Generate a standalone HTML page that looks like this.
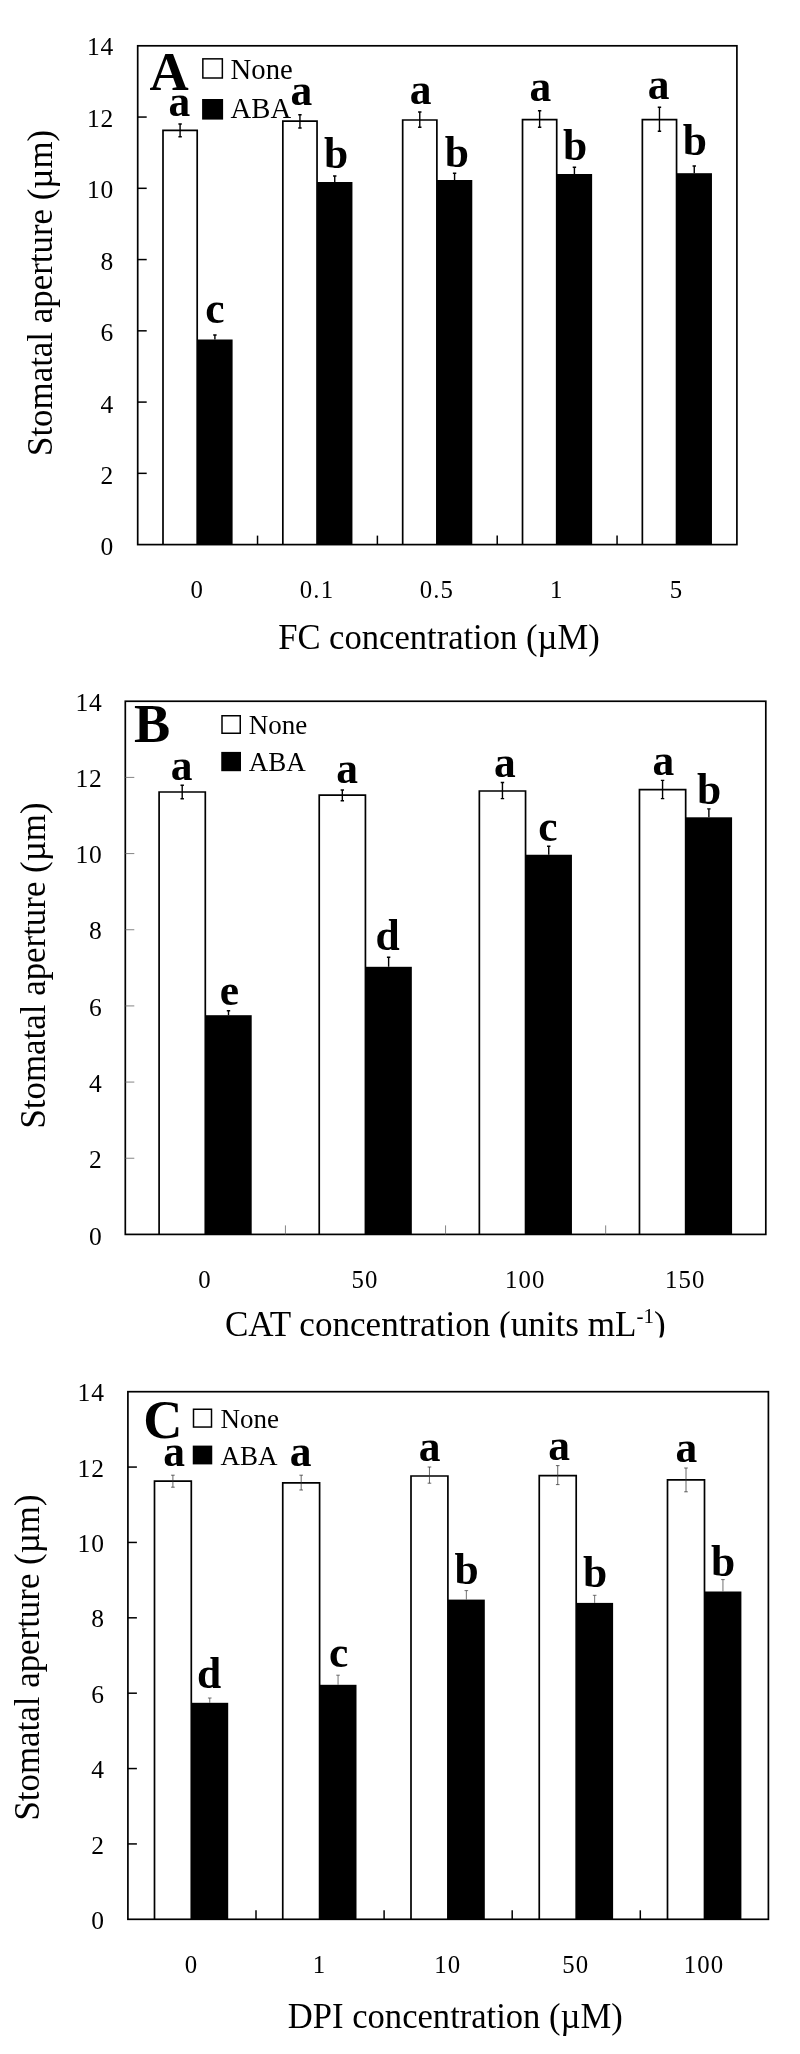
<!DOCTYPE html>
<html><head><meta charset="utf-8"><title>Stomatal aperture</title>
<style>html,body{margin:0;padding:0;background:#fff}svg{display:block;will-change:transform;filter:grayscale(1)}text{fill:#000}</style>
</head><body>
<svg width="800" height="2054" viewBox="0 0 800 2054">
<rect width="800" height="2054" fill="#fff"/>
<rect x="197.20" y="339.50" width="35.40" height="205.10" fill="#000"/>
<path d="M163.00 544.60V130.40H197.20V544.60" fill="#fff" stroke="#000" stroke-width="1.7" stroke-linejoin="miter"/>
<path d="M180.10 124.00V136.80M178.40 124.00H181.80M178.40 136.80H181.80" stroke="#000" stroke-width="1.4" fill="none"/>
<path d="M214.90 335.00V339.50M213.20 335.00H216.60" stroke="#000" stroke-width="1.4" fill="none"/>
<rect x="317.04" y="182.00" width="35.40" height="362.60" fill="#000"/>
<path d="M282.84 544.60V121.20H317.04V544.60" fill="#fff" stroke="#000" stroke-width="1.7" stroke-linejoin="miter"/>
<path d="M299.94 114.80V128.00M298.24 114.80H301.64M298.24 128.00H301.64" stroke="#000" stroke-width="1.4" fill="none"/>
<path d="M334.74 176.00V182.00M333.04 176.00H336.44" stroke="#000" stroke-width="1.4" fill="none"/>
<rect x="436.88" y="180.00" width="35.40" height="364.60" fill="#000"/>
<path d="M402.68 544.60V120.00H436.88V544.60" fill="#fff" stroke="#000" stroke-width="1.7" stroke-linejoin="miter"/>
<path d="M419.78 112.00V127.20M418.08 112.00H421.48M418.08 127.20H421.48" stroke="#000" stroke-width="1.4" fill="none"/>
<path d="M454.58 173.20V180.00M452.88 173.20H456.28" stroke="#000" stroke-width="1.4" fill="none"/>
<rect x="556.72" y="174.00" width="35.40" height="370.60" fill="#000"/>
<path d="M522.52 544.60V119.60H556.72V544.60" fill="#fff" stroke="#000" stroke-width="1.7" stroke-linejoin="miter"/>
<path d="M539.62 110.80V127.20M537.92 110.80H541.32M537.92 127.20H541.32" stroke="#000" stroke-width="1.4" fill="none"/>
<path d="M574.42 167.20V174.00M572.72 167.20H576.12" stroke="#000" stroke-width="1.4" fill="none"/>
<rect x="676.56" y="173.20" width="35.40" height="371.40" fill="#000"/>
<path d="M642.36 544.60V119.60H676.56V544.60" fill="#fff" stroke="#000" stroke-width="1.7" stroke-linejoin="miter"/>
<path d="M659.46 107.20V131.20M657.76 107.20H661.16M657.76 131.20H661.16" stroke="#000" stroke-width="1.4" fill="none"/>
<path d="M694.26 166.00V173.20M692.56 166.00H695.96" stroke="#000" stroke-width="1.4" fill="none"/>
<rect x="137.70" y="45.80" width="599.20" height="498.80" fill="none" stroke="#000" stroke-width="1.7"/>
<text x="113.30" y="555.44" font-size="25.5" text-anchor="end" letter-spacing="0" font-family="Liberation Serif, serif">0</text>
<line x1="137.70" y1="473.34" x2="146.70" y2="473.34" stroke="#000" stroke-width="1.5"/>
<text x="113.30" y="483.98" font-size="25.5" text-anchor="end" letter-spacing="0" font-family="Liberation Serif, serif">2</text>
<line x1="137.70" y1="402.09" x2="146.70" y2="402.09" stroke="#000" stroke-width="1.5"/>
<text x="113.30" y="412.52" font-size="25.5" text-anchor="end" letter-spacing="0" font-family="Liberation Serif, serif">4</text>
<line x1="137.70" y1="330.83" x2="146.70" y2="330.83" stroke="#000" stroke-width="1.5"/>
<text x="113.30" y="341.06" font-size="25.5" text-anchor="end" letter-spacing="0" font-family="Liberation Serif, serif">6</text>
<line x1="137.70" y1="259.57" x2="146.70" y2="259.57" stroke="#000" stroke-width="1.5"/>
<text x="113.30" y="269.60" font-size="25.5" text-anchor="end" letter-spacing="0" font-family="Liberation Serif, serif">8</text>
<line x1="137.70" y1="188.31" x2="146.70" y2="188.31" stroke="#000" stroke-width="1.5"/>
<text x="114.20" y="198.14" font-size="25.5" text-anchor="end" letter-spacing="0.9" font-family="Liberation Serif, serif">10</text>
<line x1="137.70" y1="117.06" x2="146.70" y2="117.06" stroke="#000" stroke-width="1.5"/>
<text x="114.20" y="126.68" font-size="25.5" text-anchor="end" letter-spacing="0.9" font-family="Liberation Serif, serif">12</text>
<text x="114.20" y="55.22" font-size="25.5" text-anchor="end" letter-spacing="0.9" font-family="Liberation Serif, serif">14</text>
<line x1="257.54" y1="544.60" x2="257.54" y2="535.60" stroke="#000" stroke-width="1.5"/>
<line x1="377.38" y1="544.60" x2="377.38" y2="535.60" stroke="#000" stroke-width="1.5"/>
<line x1="497.22" y1="544.60" x2="497.22" y2="535.60" stroke="#000" stroke-width="1.5"/>
<line x1="617.06" y1="544.60" x2="617.06" y2="535.60" stroke="#000" stroke-width="1.5"/>
<text x="196.62" y="597.70" font-size="24.8" text-anchor="middle" letter-spacing="0" font-family="Liberation Serif, serif">0</text>
<text x="317.01" y="597.70" font-size="24.8" text-anchor="middle" letter-spacing="1.1" font-family="Liberation Serif, serif">0.1</text>
<text x="436.85" y="597.70" font-size="24.8" text-anchor="middle" letter-spacing="1.1" font-family="Liberation Serif, serif">0.5</text>
<text x="556.14" y="597.70" font-size="24.8" text-anchor="middle" letter-spacing="0" font-family="Liberation Serif, serif">1</text>
<text x="675.98" y="597.70" font-size="24.8" text-anchor="middle" letter-spacing="0" font-family="Liberation Serif, serif">5</text>
<g><text transform="translate(438.90,649.30) scale(1,1.03)" font-size="34.6" text-anchor="middle" font-family="Liberation Serif, serif">FC concentration (µM)</text></g>
<text transform="translate(51.50,292.90) rotate(-90) scale(1,1.03)" font-size="34.9" text-anchor="middle" font-family="Liberation Serif, serif">Stomatal aperture (µm)</text>
<text x="149.60" y="89.60" font-size="54.3" font-weight="bold" font-family="Liberation Serif, serif">A</text>
<rect x="202.85" y="58.85" width="19.50" height="19.15" fill="#fff" stroke="#000" stroke-width="1.5"/>
<rect x="202.10" y="99.00" width="21.00" height="20.60" fill="#000"/>
<text x="230.60" y="78.70" font-size="28.7" font-family="Liberation Serif, serif">None</text>
<text x="230.60" y="118.40" font-size="28.7" font-family="Liberation Serif, serif">ABA</text>
<text x="179.40" y="116.00" font-size="43.5" font-weight="bold" text-anchor="middle" font-family="Liberation Serif, serif">a</text>
<text x="301.40" y="105.20" font-size="43.5" font-weight="bold" text-anchor="middle" font-family="Liberation Serif, serif">a</text>
<text x="420.60" y="104.00" font-size="43.5" font-weight="bold" text-anchor="middle" font-family="Liberation Serif, serif">a</text>
<text x="540.40" y="101.20" font-size="43.5" font-weight="bold" text-anchor="middle" font-family="Liberation Serif, serif">a</text>
<text x="658.60" y="99.20" font-size="43.5" font-weight="bold" text-anchor="middle" font-family="Liberation Serif, serif">a</text>
<text x="215.00" y="323.00" font-size="43.5" font-weight="bold" text-anchor="middle" font-family="Liberation Serif, serif">c</text>
<text x="336.00" y="168.00" font-size="43.5" font-weight="bold" text-anchor="middle" font-family="Liberation Serif, serif">b</text>
<text x="456.80" y="167.20" font-size="43.5" font-weight="bold" text-anchor="middle" font-family="Liberation Serif, serif">b</text>
<text x="575.00" y="160.00" font-size="43.5" font-weight="bold" text-anchor="middle" font-family="Liberation Serif, serif">b</text>
<text x="694.80" y="155.20" font-size="43.5" font-weight="bold" text-anchor="middle" font-family="Liberation Serif, serif">b</text>
<rect x="205.30" y="1015.20" width="46.40" height="219.20" fill="#000"/>
<path d="M159.10 1234.40V792.00H205.30V1234.40" fill="#fff" stroke="#000" stroke-width="1.7" stroke-linejoin="miter"/>
<path d="M182.20 785.20V798.80M180.50 785.20H183.90M180.50 798.80H183.90" stroke="#000" stroke-width="1.4" fill="none"/>
<path d="M228.50 1010.80V1015.20M226.80 1010.80H230.20" stroke="#000" stroke-width="1.4" fill="none"/>
<rect x="365.43" y="966.80" width="46.40" height="267.60" fill="#000"/>
<path d="M319.23 1234.40V795.20H365.43V1234.40" fill="#fff" stroke="#000" stroke-width="1.7" stroke-linejoin="miter"/>
<path d="M342.33 790.00V800.80M340.63 790.00H344.03M340.63 800.80H344.03" stroke="#000" stroke-width="1.4" fill="none"/>
<path d="M388.62 957.20V966.80M386.93 957.20H390.32" stroke="#000" stroke-width="1.4" fill="none"/>
<rect x="525.55" y="854.75" width="46.40" height="379.65" fill="#000"/>
<path d="M479.35 1234.40V791.00H525.55V1234.40" fill="#fff" stroke="#000" stroke-width="1.7" stroke-linejoin="miter"/>
<path d="M502.45 782.50V798.60M500.75 782.50H504.15M500.75 798.60H504.15" stroke="#000" stroke-width="1.4" fill="none"/>
<path d="M548.75 846.25V854.75M547.05 846.25H550.45" stroke="#000" stroke-width="1.4" fill="none"/>
<rect x="685.67" y="817.30" width="46.40" height="417.10" fill="#000"/>
<path d="M639.47 1234.40V789.70H685.67V1234.40" fill="#fff" stroke="#000" stroke-width="1.7" stroke-linejoin="miter"/>
<path d="M662.57 780.40V798.60M660.87 780.40H664.27M660.87 798.60H664.27" stroke="#000" stroke-width="1.4" fill="none"/>
<path d="M708.88 808.85V817.30M707.17 808.85H710.58" stroke="#000" stroke-width="1.4" fill="none"/>
<rect x="125.30" y="701.25" width="640.50" height="533.15" fill="none" stroke="#000" stroke-width="1.7"/>
<text x="101.80" y="1244.64" font-size="25.5" text-anchor="end" letter-spacing="0" font-family="Liberation Serif, serif">0</text>
<line x1="125.30" y1="1158.24" x2="134.30" y2="1158.24" stroke="#666" stroke-width="0.8"/>
<text x="101.80" y="1168.34" font-size="25.5" text-anchor="end" letter-spacing="0" font-family="Liberation Serif, serif">2</text>
<line x1="125.30" y1="1082.07" x2="134.30" y2="1082.07" stroke="#666" stroke-width="0.8"/>
<text x="101.80" y="1092.04" font-size="25.5" text-anchor="end" letter-spacing="0" font-family="Liberation Serif, serif">4</text>
<line x1="125.30" y1="1005.91" x2="134.30" y2="1005.91" stroke="#666" stroke-width="0.8"/>
<text x="101.80" y="1015.74" font-size="25.5" text-anchor="end" letter-spacing="0" font-family="Liberation Serif, serif">6</text>
<line x1="125.30" y1="929.74" x2="134.30" y2="929.74" stroke="#666" stroke-width="0.8"/>
<text x="101.80" y="939.44" font-size="25.5" text-anchor="end" letter-spacing="0" font-family="Liberation Serif, serif">8</text>
<line x1="125.30" y1="853.58" x2="134.30" y2="853.58" stroke="#666" stroke-width="0.8"/>
<text x="102.70" y="863.14" font-size="25.5" text-anchor="end" letter-spacing="0.9" font-family="Liberation Serif, serif">10</text>
<line x1="125.30" y1="777.41" x2="134.30" y2="777.41" stroke="#666" stroke-width="0.8"/>
<text x="102.70" y="786.84" font-size="25.5" text-anchor="end" letter-spacing="0.9" font-family="Liberation Serif, serif">12</text>
<text x="102.70" y="710.54" font-size="25.5" text-anchor="end" letter-spacing="0.9" font-family="Liberation Serif, serif">14</text>
<line x1="285.43" y1="1234.40" x2="285.43" y2="1225.40" stroke="#666" stroke-width="0.8"/>
<line x1="445.55" y1="1234.40" x2="445.55" y2="1225.40" stroke="#666" stroke-width="0.8"/>
<line x1="605.67" y1="1234.40" x2="605.67" y2="1225.40" stroke="#666" stroke-width="0.8"/>
<text x="204.36" y="1288.00" font-size="24.8" text-anchor="middle" letter-spacing="0" font-family="Liberation Serif, serif">0</text>
<text x="365.04" y="1288.00" font-size="24.8" text-anchor="middle" letter-spacing="1.1" font-family="Liberation Serif, serif">50</text>
<text x="525.16" y="1288.00" font-size="24.8" text-anchor="middle" letter-spacing="1.1" font-family="Liberation Serif, serif">100</text>
<text x="685.29" y="1288.00" font-size="24.8" text-anchor="middle" letter-spacing="1.1" font-family="Liberation Serif, serif">150</text>
<clipPath id="clB"><rect x="0" y="1276.30" width="800" height="61.30"/></clipPath>
<g clip-path="url(#clB)"><text transform="translate(445.30,1336.30) scale(1,1.03)" font-size="35.1" text-anchor="middle" font-family="Liberation Serif, serif">CAT concentration (units mL<tspan font-size="21" dy="-13">-1</tspan><tspan dy="13">)</tspan></text></g>
<text transform="translate(45.00,965.50) rotate(-90) scale(1,1.03)" font-size="34.9" text-anchor="middle" font-family="Liberation Serif, serif">Stomatal aperture (µm)</text>
<text x="134.00" y="742.00" font-size="54.3" font-weight="bold" font-family="Liberation Serif, serif">B</text>
<rect x="222.00" y="715.75" width="18.25" height="17.50" fill="#fff" stroke="#000" stroke-width="1.5"/>
<rect x="221.25" y="751.90" width="19.75" height="19.30" fill="#000"/>
<text x="248.75" y="733.75" font-size="27" font-family="Liberation Serif, serif">None</text>
<text x="248.75" y="771.25" font-size="27" font-family="Liberation Serif, serif">ABA</text>
<text x="181.60" y="780.00" font-size="43.5" font-weight="bold" text-anchor="middle" font-family="Liberation Serif, serif">a</text>
<text x="347.00" y="783.20" font-size="43.5" font-weight="bold" text-anchor="middle" font-family="Liberation Serif, serif">a</text>
<text x="504.80" y="777.00" font-size="43.5" font-weight="bold" text-anchor="middle" font-family="Liberation Serif, serif">a</text>
<text x="663.30" y="774.85" font-size="43.5" font-weight="bold" text-anchor="middle" font-family="Liberation Serif, serif">a</text>
<text x="229.40" y="1004.80" font-size="43.5" font-weight="bold" text-anchor="middle" font-family="Liberation Serif, serif">e</text>
<text x="387.60" y="950.00" font-size="43.5" font-weight="bold" text-anchor="middle" font-family="Liberation Serif, serif">d</text>
<text x="548.00" y="841.10" font-size="43.5" font-weight="bold" text-anchor="middle" font-family="Liberation Serif, serif">c</text>
<text x="709.20" y="803.75" font-size="43.5" font-weight="bold" text-anchor="middle" font-family="Liberation Serif, serif">b</text>
<rect x="191.30" y="1702.80" width="36.90" height="216.50" fill="#000"/>
<path d="M154.50 1919.30V1481.20H191.30V1919.30" fill="#fff" stroke="#000" stroke-width="1.7" stroke-linejoin="miter"/>
<path d="M172.90 1475.20V1487.20M171.10 1475.20H174.70M171.10 1487.20H174.70" stroke="#333" stroke-width="0.75" fill="none"/>
<path d="M209.75 1698.00V1702.80M207.95 1698.00H211.55" stroke="#444" stroke-width="0.75" fill="none"/>
<rect x="319.60" y="1684.80" width="36.90" height="234.50" fill="#000"/>
<path d="M282.75 1919.30V1482.80H319.60V1919.30" fill="#fff" stroke="#000" stroke-width="1.7" stroke-linejoin="miter"/>
<path d="M301.18 1475.20V1490.00M299.38 1475.20H302.98M299.38 1490.00H302.98" stroke="#333" stroke-width="0.75" fill="none"/>
<path d="M338.05 1675.20V1684.80M336.25 1675.20H339.85" stroke="#444" stroke-width="0.75" fill="none"/>
<rect x="447.90" y="1599.60" width="36.90" height="319.70" fill="#000"/>
<path d="M411.00 1919.30V1476.00H447.90V1919.30" fill="#fff" stroke="#000" stroke-width="1.7" stroke-linejoin="miter"/>
<path d="M429.45 1467.00V1483.20M427.65 1467.00H431.25M427.65 1483.20H431.25" stroke="#333" stroke-width="0.75" fill="none"/>
<path d="M466.35 1590.60V1599.60M464.55 1590.60H468.15" stroke="#444" stroke-width="0.75" fill="none"/>
<rect x="576.20" y="1602.90" width="36.90" height="316.40" fill="#000"/>
<path d="M539.25 1919.30V1475.60H576.20V1919.30" fill="#fff" stroke="#000" stroke-width="1.7" stroke-linejoin="miter"/>
<path d="M557.73 1465.60V1484.60M555.93 1465.60H559.52M555.93 1484.60H559.52" stroke="#333" stroke-width="0.75" fill="none"/>
<path d="M594.65 1595.30V1602.90M592.85 1595.30H596.45" stroke="#444" stroke-width="0.75" fill="none"/>
<rect x="704.50" y="1591.50" width="36.90" height="327.80" fill="#000"/>
<path d="M667.50 1919.30V1479.90H704.50V1919.30" fill="#fff" stroke="#000" stroke-width="1.7" stroke-linejoin="miter"/>
<path d="M686.00 1468.00V1491.80M684.20 1468.00H687.80M684.20 1491.80H687.80" stroke="#333" stroke-width="0.75" fill="none"/>
<path d="M722.95 1579.60V1591.50M721.15 1579.60H724.75" stroke="#444" stroke-width="0.75" fill="none"/>
<rect x="127.90" y="1391.70" width="640.50" height="527.60" fill="none" stroke="#000" stroke-width="1.7"/>
<text x="104.00" y="1929.14" font-size="25.5" text-anchor="end" letter-spacing="0" font-family="Liberation Serif, serif">0</text>
<line x1="127.90" y1="1843.93" x2="136.90" y2="1843.93" stroke="#000" stroke-width="1.5"/>
<text x="104.00" y="1853.72" font-size="25.5" text-anchor="end" letter-spacing="0" font-family="Liberation Serif, serif">2</text>
<line x1="127.90" y1="1768.56" x2="136.90" y2="1768.56" stroke="#000" stroke-width="1.5"/>
<text x="104.00" y="1778.30" font-size="25.5" text-anchor="end" letter-spacing="0" font-family="Liberation Serif, serif">4</text>
<line x1="127.90" y1="1693.19" x2="136.90" y2="1693.19" stroke="#000" stroke-width="1.5"/>
<text x="104.00" y="1702.88" font-size="25.5" text-anchor="end" letter-spacing="0" font-family="Liberation Serif, serif">6</text>
<line x1="127.90" y1="1617.81" x2="136.90" y2="1617.81" stroke="#000" stroke-width="1.5"/>
<text x="104.00" y="1627.46" font-size="25.5" text-anchor="end" letter-spacing="0" font-family="Liberation Serif, serif">8</text>
<line x1="127.90" y1="1542.44" x2="136.90" y2="1542.44" stroke="#000" stroke-width="1.5"/>
<text x="104.90" y="1552.04" font-size="25.5" text-anchor="end" letter-spacing="0.9" font-family="Liberation Serif, serif">10</text>
<line x1="127.90" y1="1467.07" x2="136.90" y2="1467.07" stroke="#000" stroke-width="1.5"/>
<text x="104.90" y="1476.62" font-size="25.5" text-anchor="end" letter-spacing="0.9" font-family="Liberation Serif, serif">12</text>
<text x="104.90" y="1401.20" font-size="25.5" text-anchor="end" letter-spacing="0.9" font-family="Liberation Serif, serif">14</text>
<line x1="256.00" y1="1919.30" x2="256.00" y2="1910.30" stroke="#000" stroke-width="1.5"/>
<line x1="384.10" y1="1919.30" x2="384.10" y2="1910.30" stroke="#000" stroke-width="1.5"/>
<line x1="512.20" y1="1919.30" x2="512.20" y2="1910.30" stroke="#000" stroke-width="1.5"/>
<line x1="640.30" y1="1919.30" x2="640.30" y2="1910.30" stroke="#000" stroke-width="1.5"/>
<text x="190.95" y="1972.50" font-size="24.8" text-anchor="middle" letter-spacing="0" font-family="Liberation Serif, serif">0</text>
<text x="319.05" y="1972.50" font-size="24.8" text-anchor="middle" letter-spacing="0" font-family="Liberation Serif, serif">1</text>
<text x="447.70" y="1972.50" font-size="24.8" text-anchor="middle" letter-spacing="1.1" font-family="Liberation Serif, serif">10</text>
<text x="575.80" y="1972.50" font-size="24.8" text-anchor="middle" letter-spacing="1.1" font-family="Liberation Serif, serif">50</text>
<text x="703.90" y="1972.50" font-size="24.8" text-anchor="middle" letter-spacing="1.1" font-family="Liberation Serif, serif">100</text>
<g><text transform="translate(455.30,2027.70) scale(1,1.03)" font-size="34.6" text-anchor="middle" font-family="Liberation Serif, serif">DPI concentration (µM)</text></g>
<text transform="translate(39.00,1657.50) rotate(-90) scale(1,1.03)" font-size="34.9" text-anchor="middle" font-family="Liberation Serif, serif">Stomatal aperture (µm)</text>
<text x="143.20" y="1437.60" font-size="54.3" font-weight="bold" font-family="Liberation Serif, serif">C</text>
<rect x="193.50" y="1409.25" width="18.00" height="17.80" fill="#fff" stroke="#000" stroke-width="1.5"/>
<rect x="192.75" y="1445.60" width="19.50" height="18.80" fill="#000"/>
<text x="220.40" y="1427.60" font-size="27" font-family="Liberation Serif, serif">None</text>
<text x="220.40" y="1464.80" font-size="27" font-family="Liberation Serif, serif">ABA</text>
<text x="174.00" y="1466.00" font-size="43.5" font-weight="bold" text-anchor="middle" font-family="Liberation Serif, serif">a</text>
<text x="300.60" y="1466.00" font-size="43.5" font-weight="bold" text-anchor="middle" font-family="Liberation Serif, serif">a</text>
<text x="429.70" y="1461.00" font-size="43.5" font-weight="bold" text-anchor="middle" font-family="Liberation Serif, serif">a</text>
<text x="559.00" y="1459.50" font-size="43.5" font-weight="bold" text-anchor="middle" font-family="Liberation Serif, serif">a</text>
<text x="686.30" y="1461.80" font-size="43.5" font-weight="bold" text-anchor="middle" font-family="Liberation Serif, serif">a</text>
<text x="209.20" y="1688.00" font-size="43.5" font-weight="bold" text-anchor="middle" font-family="Liberation Serif, serif">d</text>
<text x="338.60" y="1667.20" font-size="43.5" font-weight="bold" text-anchor="middle" font-family="Liberation Serif, serif">c</text>
<text x="466.50" y="1584.40" font-size="43.5" font-weight="bold" text-anchor="middle" font-family="Liberation Serif, serif">b</text>
<text x="595.20" y="1586.80" font-size="43.5" font-weight="bold" text-anchor="middle" font-family="Liberation Serif, serif">b</text>
<text x="723.00" y="1575.80" font-size="43.5" font-weight="bold" text-anchor="middle" font-family="Liberation Serif, serif">b</text>
</svg>
</body></html>
